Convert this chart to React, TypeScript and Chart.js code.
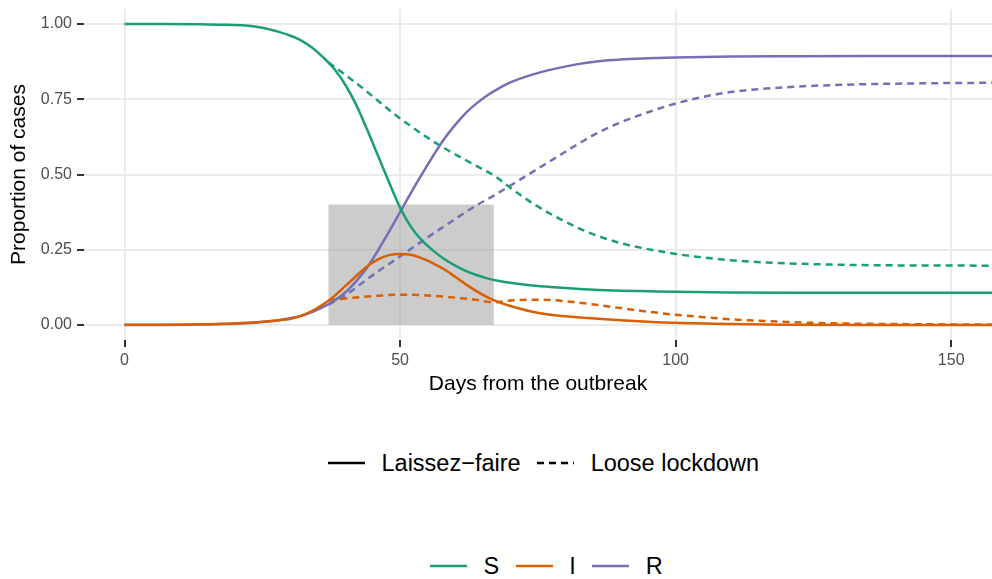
import React, { useEffect, useRef } from "react";
import { Chart, registerables } from "chart.js";

Chart.register(...registerables);

const FONT = "'Liberation Sans', Arial, Helvetica, sans-serif";

// ---- Data ----
const days = [0, 7, 14, 18, 22, 25, 28, 30, 32, 34, 36, 38, 40, 42, 44, 46, 48, 50, 52, 54, 56, 58, 60, 62, 64, 66, 68, 70, 74, 78, 82, 86, 90, 95, 100, 110, 120, 135, 158];
const sLaissez = [1.0, 1.0, 0.999, 0.998, 0.995, 0.988, 0.974, 0.962, 0.946, 0.922, 0.89, 0.852, 0.8, 0.733, 0.65, 0.562, 0.474, 0.39, 0.325, 0.28, 0.247, 0.219, 0.197, 0.179, 0.165, 0.154, 0.146, 0.14, 0.131, 0.125, 0.12, 0.116, 0.114, 0.112, 0.11, 0.108, 0.107, 0.107, 0.107];
const iLaissez = [0.001, 0.001, 0.002, 0.004, 0.007, 0.011, 0.016, 0.02, 0.03, 0.046, 0.068, 0.095, 0.128, 0.162, 0.194, 0.218, 0.232, 0.236, 0.233, 0.221, 0.205, 0.185, 0.16, 0.134, 0.111, 0.091, 0.075, 0.063, 0.044, 0.032, 0.026, 0.021, 0.016, 0.011, 0.007, 0.003, 0.001, 0.0, 0.0];
const rLaissez = [0.0, 0.0, 0.0015, 0.003, 0.006, 0.01, 0.016, 0.022, 0.03, 0.043, 0.059, 0.08, 0.107, 0.145, 0.19, 0.248, 0.31, 0.375, 0.44, 0.502, 0.562, 0.618, 0.665, 0.706, 0.738, 0.765, 0.787, 0.806, 0.832, 0.851, 0.866, 0.876, 0.882, 0.886, 0.889, 0.892, 0.893, 0.894, 0.894];

const lockdownDays = [37, 40, 43, 46, 49, 52, 55, 58, 61, 64, 67, 70, 74, 78, 82, 86, 90, 95, 100, 105, 110, 120, 130, 140, 158];
const sLockdown = [0.872, 0.832, 0.79, 0.745, 0.7, 0.66, 0.622, 0.588, 0.557, 0.527, 0.497, 0.456, 0.405, 0.362, 0.325, 0.295, 0.272, 0.252, 0.236, 0.224, 0.215, 0.205, 0.2, 0.198, 0.197];
const iLockdown = [0.082, 0.088, 0.093, 0.097, 0.1, 0.1, 0.098, 0.094, 0.089, 0.083, 0.075, 0.081, 0.084, 0.082, 0.075, 0.066, 0.056, 0.044, 0.034, 0.026, 0.019, 0.01, 0.005, 0.003, 0.001];
const rLockdown = [0.068, 0.098, 0.138, 0.178, 0.215, 0.253, 0.291, 0.328, 0.364, 0.399, 0.43, 0.463, 0.508, 0.553, 0.598, 0.64, 0.673, 0.707, 0.736, 0.758, 0.774, 0.79, 0.798, 0.802, 0.805];

const lockdownStart = 37;
const lockdownEnd = 67;
const lockdownHeight = 0.4;

const xTicks = [0, 50, 100, 150];
const yTicks = [0, 0.25, 0.5, 0.75, 1.0];

const scenarioLabels = ["Laissez\u2212faire", "Loose lockdown"];
const compartmentLabels = ["S", "I", "R"];
const compartmentColors = ["#1B9E77", "#D95F02", "#7570B3"];

const DASH = [7, 5];

function pts(xs: number[], ys: number[]) {
  return xs.map((x, i) => ({ x, y: ys[i] }));
}

const rectPlugin = {
  id: "lockdownRect",
  beforeDatasetsDraw(chart: any) {
    const { ctx, scales } = chart;
    const x = scales.x;
    const y = scales.y;
    const x0 = x.getPixelForValue(lockdownStart);
    const x1 = x.getPixelForValue(lockdownEnd);
    const y0 = y.getPixelForValue(0);
    const y1 = y.getPixelForValue(lockdownHeight);
    ctx.save();
    ctx.fillStyle = "rgba(153,153,153,0.5)";
    ctx.fillRect(x0, y1, x1 - x0, y0 - y1);
    ctx.restore();
  },
};

function Key({ color, dashed }: { color: string; dashed?: boolean }) {
  return (
    <svg width={37} height={8} style={{ display: "block" }}>
      <line
        x1={0}
        y1={4}
        x2={37}
        y2={4}
        stroke={color}
        strokeWidth={2.6}
        strokeDasharray={dashed ? DASH.join(" ") : undefined}
      />
    </svg>
  );
}

export default function App() {
  const ref = useRef<HTMLCanvasElement>(null);

  useEffect(() => {
    const solid = [sLaissez, iLaissez, rLaissez];
    const dashed = [sLockdown, iLockdown, rLockdown];
    const datasets: any[] = [];
    compartmentLabels.forEach((lab, k) => {
      datasets.push({
        label: lab + " " + scenarioLabels[0],
        data: pts(days, solid[k]),
        borderColor: compartmentColors[k],
        borderWidth: 2.5,
        pointRadius: 0,
        cubicInterpolationMode: "monotone",
        fill: false,
      });
    });
    compartmentLabels.forEach((lab, k) => {
      datasets.push({
        label: lab + " " + scenarioLabels[1],
        data: pts(lockdownDays, dashed[k]),
        borderColor: compartmentColors[k],
        borderWidth: 2.5,
        borderDash: DASH,
        pointRadius: 0,
        cubicInterpolationMode: "monotone",
        fill: false,
      });
    });

    const chart = new Chart(ref.current as HTMLCanvasElement, {
      type: "line",
      data: { datasets },
      plugins: [rectPlugin],
      options: {
        animation: false,
        responsive: false,
        devicePixelRatio: 1,
        layout: { padding: { top: 9, right: 0, left: 0, bottom: 0 } },
        plugins: { legend: { display: false }, tooltip: { enabled: false } },
        scales: {
          x: {
            type: "linear",
            min: -7.35,
            max: 157.4,
            afterBuildTicks: (axis: any) => {
              axis.ticks = xTicks.map((v) => ({ value: v }));
            },
            afterFit: (axis: any) => {
              axis.height = 60;
              axis.paddingLeft = 0;
              axis.paddingRight = 0;
            },
            grid: {
              color: "#EBEBEB",
              lineWidth: 2,
              drawTicks: true,
              tickLength: 7,
              tickColor: "#333333",
              tickWidth: 2,
            },
            border: { display: false },
            ticks: {
              color: "#4D4D4D",
              font: { family: FONT, size: 16 },
              padding: 4,
              maxRotation: 0,
              callback: (v: any) => String(v),
            },
            title: {
              display: true,
              text: "Days from the outbreak",
              color: "#000000",
              font: { family: FONT, size: 21 },
              padding: { top: 0, bottom: 3 },
            },
          },
          y: {
            type: "linear",
            min: -0.05,
            max: 1.05,
            afterBuildTicks: (axis: any) => {
              axis.ticks = yTicks.map((v) => ({ value: v }));
            },
            afterFit: (axis: any) => {
              axis.width = 84;
              axis.paddingTop = 0;
              axis.paddingBottom = 0;
            },
            grid: {
              color: "#EBEBEB",
              lineWidth: 2,
              drawTicks: true,
              tickLength: 7,
              tickColor: "#333333",
              tickWidth: 2,
            },
            border: { display: false },
            ticks: {
              color: "#4D4D4D",
              font: { family: FONT, size: 16 },
              padding: 5,
              callback: (v: any) => Number(v).toFixed(2),
            },
            title: {
              display: true,
              text: "Proportion of cases",
              color: "#000000",
              font: { family: FONT, size: 21 },
              padding: { top: 7, bottom: 0 },
            },
          },
        },
      } as any,
    });
    return () => chart.destroy();
  }, []);

  const legendText: React.CSSProperties = {
    fontFamily: FONT,
    fontSize: 23.5,
    color: "#000",
    lineHeight: "30px",
    whiteSpace: "nowrap",
  };

  return (
    <div
      style={{
        position: "fixed",
        left: 0,
        top: 0,
        width: 992,
        height: 579,
        background: "#FFFFFF",
        overflow: "hidden",
      }}
    >
      <canvas ref={ref} width={992} height={400} style={{ display: "block", width: 992, height: 400 }} />
      <div
        style={{
          position: "absolute",
          left: 328,
          top: 448,
          height: 30,
          display: "flex",
          alignItems: "center",
        }}
      >
        <Key color="#000" />
        <span style={{ ...legendText, marginLeft: 16.5 }}>{scenarioLabels[0]}</span>
        <span style={{ marginLeft: 16.5 }}>
          <Key color="#000" dashed />
        </span>
        <span style={{ ...legendText, marginLeft: 16.5 }}>{scenarioLabels[1]}</span>
      </div>
      <div
        style={{
          position: "absolute",
          left: 430,
          top: 551,
          height: 30,
          display: "flex",
          alignItems: "center",
        }}
      >
        {compartmentLabels.map((lab, k) => (
          <React.Fragment key={lab}>
            <span style={{ marginLeft: k === 0 ? 0 : 16.5 }}>
              <Key color={compartmentColors[k]} />
            </span>
            <span style={{ ...legendText, marginLeft: 16.5 }}>{lab}</span>
          </React.Fragment>
        ))}
      </div>
    </div>
  );
}
